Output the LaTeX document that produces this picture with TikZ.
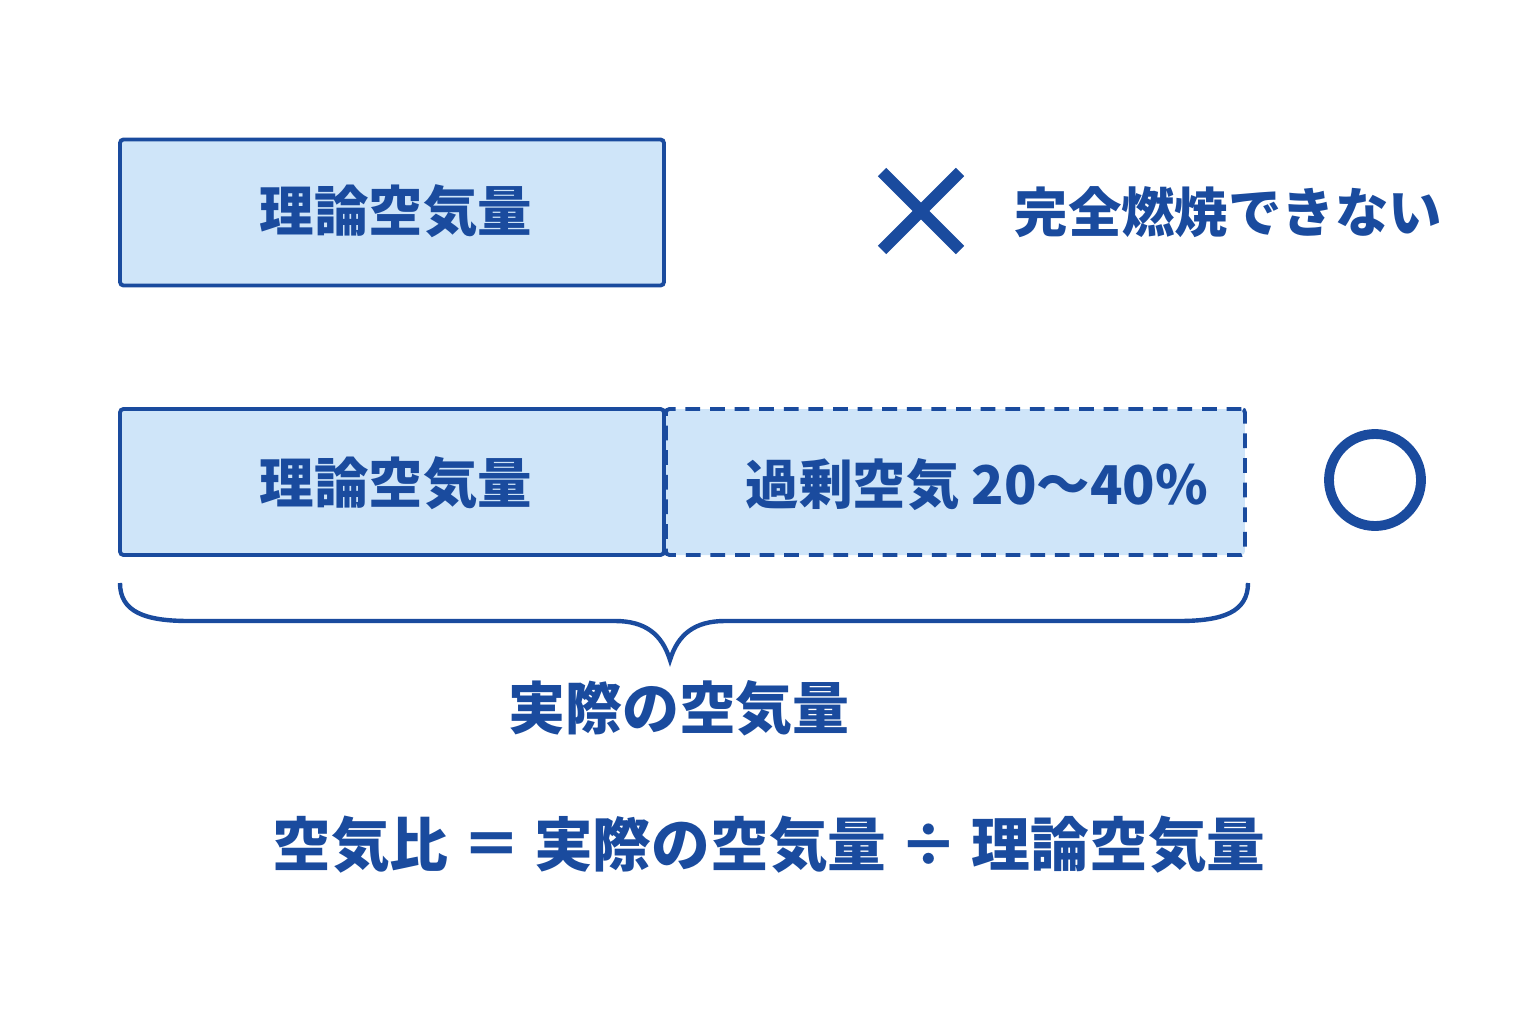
\documentclass[tikz,border=0pt]{standalone}
\usepackage{fontspec}
\newfontfamily\jp{Noto Sans CJK JP}
\usetikzlibrary{positioning}
\definecolor{airblue}{HTML}{1A4B9E}
\definecolor{airfill}{HTML}{CFE5F9}

\begin{document}
\begin{tikzpicture}[font=\jp\bfseries\fontsize{15.5}{18}\selectfont]
%% the figure is laid out in cm, 1 px of the sketch = 0.01 cm
%% boxes share one height, the dashed box hangs on the right of the second box
\tikzstyle{airbox}=[draw=airblue,fill=airfill,line width=1.1pt,rounded corners=1pt,
  minimum width=5.44cm,minimum height=1.46cm,inner sep=0pt]
\tikzstyle{excessbox}=[airbox,dash pattern=on 4.2pt off 2.8pt,minimum width=5.79cm]
\tikzstyle{label}=[text=airblue,inner sep=0pt]
\tikzstyle{crossline}=[draw=airblue,line width=3.4pt]
\useasboundingbox (0,0) rectangle (15.36,10.24);
%% TikZ-figure elements %%
\node[airbox] at (3.92,8.115) (theory1) {};
%% label for box theory1
\node[label] at (3.96,8.13) (theory1lbl) {理論空気量};
%% cross: not enough air
\coordinate (crossA) at (8.82,8.52);
\coordinate (crossB) at (9.60,7.74);
\coordinate (crossC) at (8.82,7.74);
\coordinate (crossD) at (9.60,8.52);
\draw[crossline] (crossA) -- (crossB);
\draw[crossline] (crossC) -- (crossD);
\node[label,anchor=west,font=\jp\bfseries\fontsize{15.2}{18}\selectfont] at (10.14,8.12) (nofire) {完全燃焼できない};
%% second row: theory + excess
\node[excessbox,anchor=west] at (6.64,5.42) (excess) {};
\node[airbox] at (3.92,5.42) (theory2) {};
%% label for box theory2
\node[label] at (3.96,5.41) (theory2lbl) {理論空気量};
%% label for box excess
\node[label,font=\jp\bfseries\fontsize{15.2}{18}\selectfont] at (9.77,5.39) (excesslbl) {過剰空気 20～40\%};
%% circle: enough air
\node[draw=airblue,line width=2.8pt,circle,minimum size=0.92cm,inner sep=0pt] at (13.75,5.44) (okmark) {};
%% brace under both boxes
\coordinate (braceL) at (1.20,4.41);
\coordinate (braceT) at (6.70,3.64);
\coordinate (braceR) at (12.48,4.41);
\draw[airblue,line width=1.25pt] (braceL) .. controls (1.20,4.12) and (1.45,4.03) .. (1.89,4.03)
  -- (6.15,4.03) .. controls (6.45,4.03) and (6.62,3.90) .. (braceT)
  .. controls (6.78,3.90) and (6.95,4.03) .. (7.25,4.03)
  -- (11.79,4.03) .. controls (12.23,4.03) and (12.48,4.12) .. (braceR);
\node[label,font=\jp\bfseries\fontsize{16.2}{19}\selectfont] at (6.79,3.16) (actual) {実際の空気量};
%% formula
\node[label,font=\jp\bfseries\fontsize{16.7}{19}\selectfont] at (7.69,1.79) (ratio) {空気比 ＝ 実際の空気量 ÷ 理論空気量};
\end{tikzpicture}
\end{document}
